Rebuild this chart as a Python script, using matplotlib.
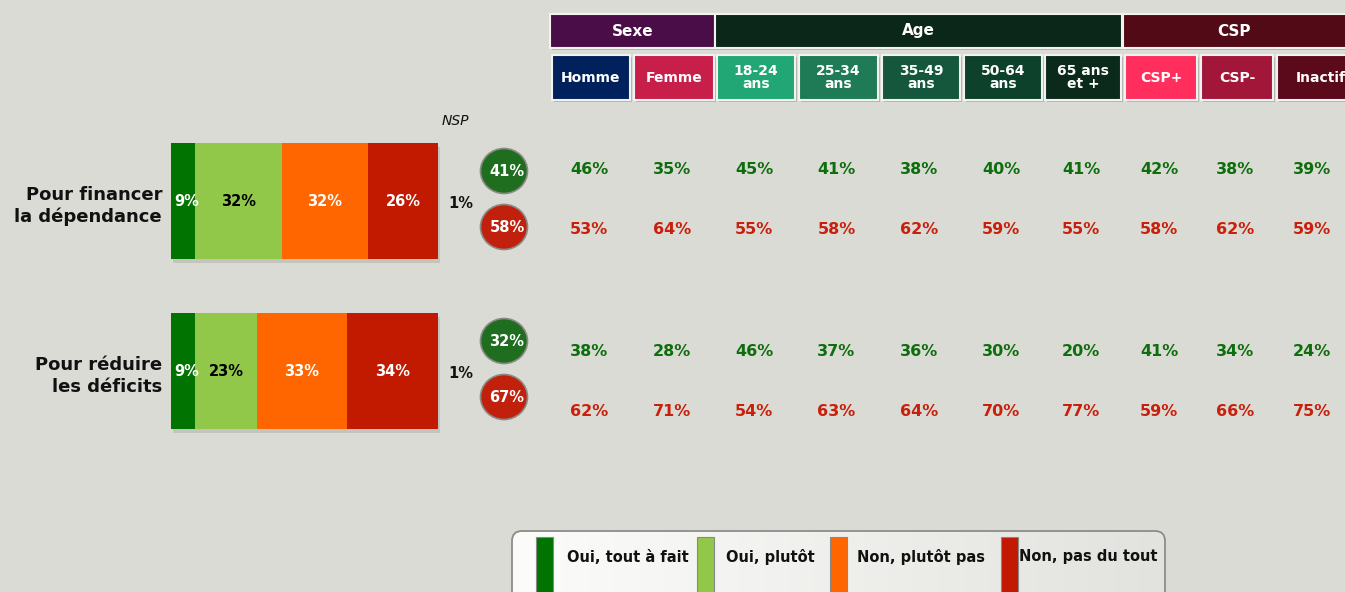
import matplotlib
matplotlib.use("Agg")
import matplotlib.pyplot as plt
from matplotlib.patches import Rectangle, Ellipse, FancyBboxPatch
import numpy as np

# ---------------- data ----------------
questions = ["Pour financer\nla dépendance", "Pour réduire\nles déficits"]
answer_labels = ["Oui, tout à fait", "Oui, plutôt", "Non, plutôt pas", "Non, pas du tout"]
oui_tout = [9, 9]
oui_plutot = [32, 23]
non_plutot = [32, 33]
non_pas = [26, 34]
nsp = [1, 1]
total_oui = [41, 32]
total_non = [58, 67]

groups = ["Sexe", "Age", "CSP"]
group_sizes = [2, 5, 3]
subgroups = ["Homme", "Femme", "18-24\nans", "25-34\nans", "35-49\nans", "50-64\nans",
             "65 ans\net +", "CSP+", "CSP-", "Inactif"]
q1_oui = [46, 35, 45, 41, 38, 40, 41, 42, 38, 39]
q1_non = [53, 64, 55, 58, 62, 59, 55, 58, 62, 59]
q2_oui = [38, 28, 46, 37, 36, 30, 20, 41, 34, 24]
q2_non = [62, 71, 54, 63, 64, 70, 77, 59, 66, 75]

# ---------------- style ----------------
BG = "#DBDBD5"
seg_colors = ["#007300", "#92C84A", "#FF6600", "#C21A00"]
seg_text = ["white", "black", "white", "white"]
group_colors = ["#4A0D48", "#0B2719", "#520A17"]
sub_colors = ["#00215C", "#C81E4A", "#21A775", "#1E7B55", "#15573D", "#0E412C",
              "#0C2A1C", "#FF2E5C", "#A2163A", "#5A0A1B"]
GREEN_TXT = "#0E6E0E"
RED_TXT = "#C8200C"

W, H = 1345, 592
fig = plt.figure(figsize=(W / 100, H / 100), dpi=100)
fig.patch.set_facecolor(BG)

# overlay axes in pixel coordinates
ov = fig.add_axes([0, 0, 1, 1])
ov.set_xlim(0, W)
ov.set_ylim(H, 0)
ov.axis("off")
ov.set_facecolor(BG)

# bar axes: 0..100% mapped on px 171..441, rows centred at y=201 and 371
bl, bt, bw, bh = 171, 116, 270, 340
bax = fig.add_axes([bl / W, (H - bt - bh) / H, bw / W, bh / H])
bax.set_xlim(0, 100)
bax.set_ylim(1.5, -0.5)
bax.axis("off")
bax.patch.set_alpha(0)

series = [oui_tout, oui_plutot, non_plutot, non_pas]
ypos = np.arange(len(questions))
left = np.zeros(len(questions))
for s, col, tc in zip(series, seg_colors, seg_text):
    vals = np.array(s, dtype=float)
    # shadow
    bax.barh(ypos + 0.025, vals, left=left + 0.6, height=0.682, color="#9a9a95",
             alpha=0.35, zorder=1, linewidth=0)
    bax.barh(ypos, vals, left=left, height=0.682, color=col, zorder=2,
             edgecolor=col, linewidth=0)
    for y, l, v in zip(ypos, left, vals):
        bax.text(l + v / 2 + (1.2 if v < 12 else 0), y, f"{int(v)}%", ha="center",
                 va="center", color=tc, fontsize=10.5, fontweight="bold", zorder=3)
    left += vals

# question labels
row_centers = [201, 371]
for q, yc in zip(questions, row_centers):
    ov.text(162, yc + 5, q, ha="right", va="center", fontsize=13, fontweight="bold",
            color="#111111", linespacing=1.3)

# NSP
ov.text(455, 121, "NSP", ha="center", va="center", fontsize=10, style="italic",
        color="#111111")
for v, yc in zip(nsp, row_centers):
    ov.text(461, yc + 2, f"{v}%", ha="center", va="center", fontsize=10.5,
            fontweight="bold", color="#111111")

# total circles
for to, tn, yc in zip(total_oui, total_non, row_centers):
    for val, col, dy in ((to, "#1F6E1F", -30), (tn, "#C0200C", 26)):
        ov.add_patch(Ellipse((504, yc + dy), 47, 45, facecolor=col, edgecolor="#8a8a85",
                             linewidth=1.2, zorder=3))
        ov.text(507, yc + dy, f"{val}%", ha="center", va="center", color="white",
                fontsize=10.5, fontweight="bold", zorder=4)

# header boxes
sub_left = [552, 634, 717, 799, 882, 964, 1045, 1125, 1201, 1277]
sub_right = [630, 714, 795, 878, 960, 1042, 1121, 1197, 1273, 1350]
col_centers = [(a + b) / 2 for a, b in zip(sub_left, sub_right)]
start = 0
for g, n, gc in zip(groups, group_sizes, group_colors):
    x0 = sub_left[start] - 2
    x1 = sub_right[start + n - 1] + 1
    ov.add_patch(Rectangle((x0 + 2, 16), x1 - x0, 34, facecolor="#b5b5b0", edgecolor="none",
                           zorder=1))
    ov.add_patch(Rectangle((x0, 14), x1 - x0, 34, facecolor=gc, edgecolor="#f2f2f0",
                           linewidth=1.5, zorder=2))
    ov.text(x0 + (min(x1, W) - x0) / 2, 31, g, ha="center", va="center", color="white",
            fontsize=11, fontweight="bold", zorder=3)
    start += n

for name, l, r, c in zip(subgroups, sub_left, sub_right, sub_colors):
    ov.add_patch(Rectangle((l + 2, 57), r - l, 45, facecolor="#b5b5b0", edgecolor="none",
                           zorder=1))
    ov.add_patch(Rectangle((l, 55), r - l, 45, facecolor=c, edgecolor="#f2f2f0",
                           linewidth=1.5, zorder=2))
    cx = (l + r) / 2
    if name == "Inactif":
        cx = l + 44
    ov.text(cx, 77.5, name, ha="center", va="center", color="white", fontsize=10,
            fontweight="bold", linespacing=0.95, zorder=3)

# values table
value_rows = [(q1_oui, GREEN_TXT, 170), (q1_non, RED_TXT, 230),
              (q2_oui, GREEN_TXT, 352), (q2_non, RED_TXT, 411)]
for vals, col, y in value_rows:
    for v, cx in zip(vals, col_centers):
        ov.text(cx - 2, y, f"{v}%", ha="center", va="center", color=col, fontsize=11.5,
                fontweight="bold")

# legend box with gradient
lx0, ly0, lx1, ly1 = 512, 531, 1165, 640
box = FancyBboxPatch((lx0, ly0), lx1 - lx0, ly1 - ly0,
                     boxstyle="round,pad=0,rounding_size=10", facecolor="none",
                     edgecolor="#8c8c88", linewidth=1.3, zorder=5)
ov.add_patch(box)
grad = np.linspace(0, 1, 256).reshape(1, -1)
im = ov.imshow(grad, extent=(lx0, lx1, ly1, ly0),
               cmap=matplotlib.colors.LinearSegmentedColormap.from_list(
                   "g", ["#FCFCFB", "#E2E2DE"]), aspect="auto", zorder=4)
im.set_clip_path(box)
ov.set_xlim(0, W)
ov.set_ylim(H, 0)

sw_x = [536, 697, 830, 1001]
lab_x = [567, 726, 857, 1019]
for col, sx, lxx, lab in zip(seg_colors, sw_x, lab_x, answer_labels):
    ov.add_patch(Rectangle((sx, 537), 17, 60, facecolor=col, edgecolor="#888884",
                           linewidth=0.8, zorder=6))
    ov.text(lxx, 557, lab, ha="left", va="center", fontsize=10.5, fontweight="bold",
            color="#111111", zorder=7)

fig.savefig("out.png", dpi=100, facecolor=BG)
